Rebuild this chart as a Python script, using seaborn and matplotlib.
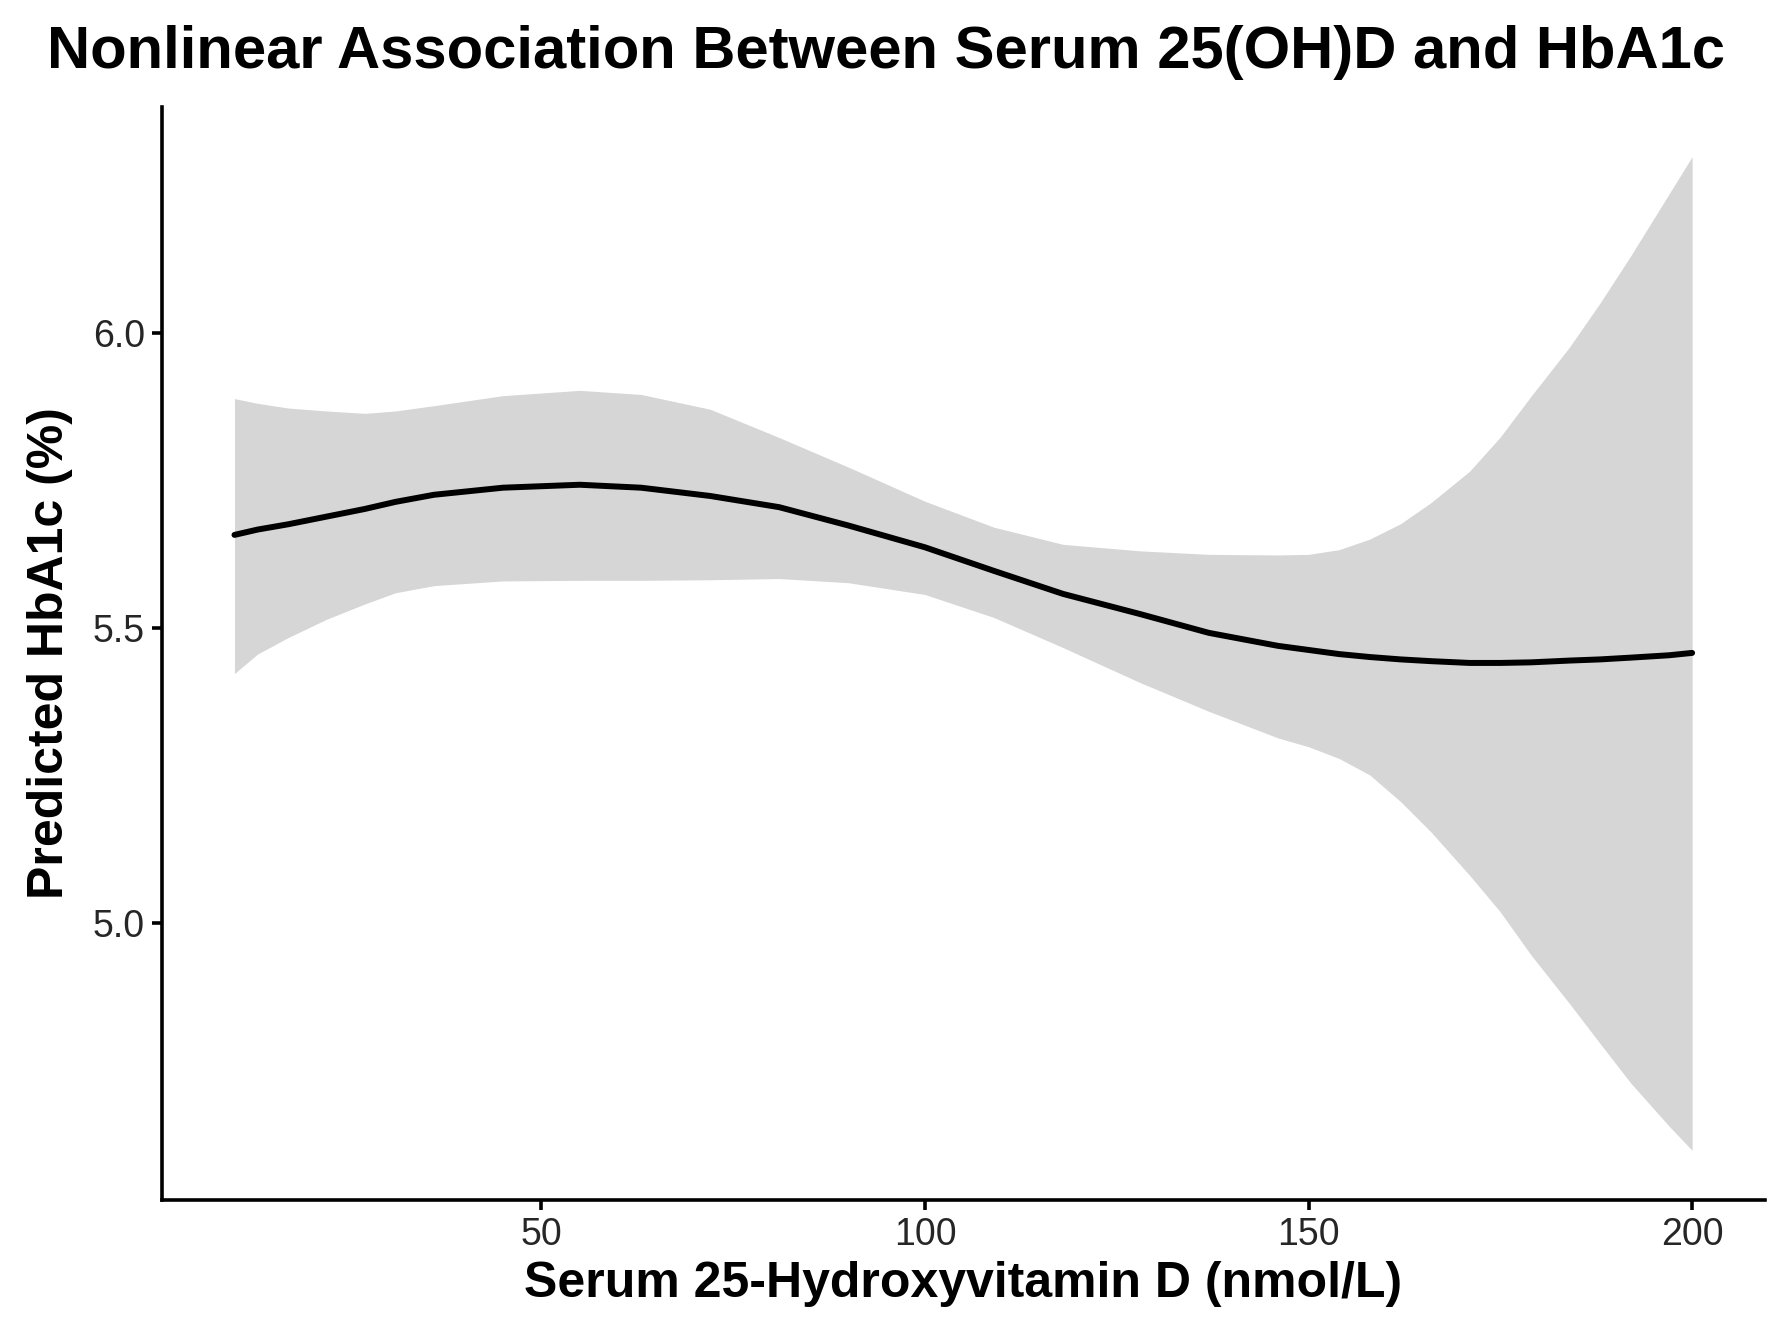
import matplotlib
matplotlib.use("Agg")
import matplotlib.pyplot as plt
import seaborn as sns
import pandas as pd

# Serum 25(OH)D (nmol/L)
vitd = [10, 13, 17, 22, 27, 31, 36, 45, 55, 63, 72, 81, 90, 100, 109, 118, 128,
        137, 146, 150, 154, 158, 162, 166, 171, 175, 179, 184, 188, 192, 197, 200]
# Predicted HbA1c (%)
fit = [5.657, 5.666, 5.675, 5.688, 5.701, 5.713, 5.725, 5.737, 5.742, 5.737,
       5.723, 5.704, 5.673, 5.636, 5.596, 5.557, 5.523, 5.491, 5.469, 5.462,
       5.455, 5.450, 5.446, 5.443, 5.440, 5.440, 5.441, 5.444, 5.446, 5.449,
       5.453, 5.457]
upper = [5.888, 5.880, 5.872, 5.867, 5.863, 5.867, 5.876, 5.893, 5.902, 5.895,
         5.870, 5.822, 5.772, 5.714, 5.670, 5.641, 5.630, 5.624, 5.623, 5.624,
         5.632, 5.650, 5.676, 5.712, 5.765, 5.823, 5.892, 5.975, 6.050, 6.130,
         6.235, 6.298]
lower = [5.422, 5.455, 5.483, 5.514, 5.540, 5.559, 5.571, 5.579, 5.580, 5.580,
         5.581, 5.583, 5.576, 5.556, 5.517, 5.466, 5.407, 5.358, 5.313, 5.298,
         5.278, 5.250, 5.205, 5.153, 5.080, 5.018, 4.945, 4.863, 4.795, 4.728,
         4.655, 4.614]

xticks = [50, 100, 150, 200]
yticks = [5.0, 5.5, 6.0]
ytick_labels = ["5.0", "5.5", "6.0"]

title = "Nonlinear Association Between Serum 25(OH)D and HbA1c"
xlabel = "Serum 25-Hydroxyvitamin D (nmol/L)"
ylabel = "Predicted HbA1c (%)"

df = pd.DataFrame({"vitd": vitd, "fit": fit, "upper": upper, "lower": lower})

sns.set_theme(style="ticks")
plt.rcParams["font.family"] = ["Liberation Sans", "DejaVu Sans"]

W, H = 1772, 1322
fig = plt.figure(figsize=(W / 100, H / 100), dpi=100)
ax = fig.add_axes([161.6 / W, 1 - 1200 / H, (1765 - 161.6) / W, (1200 - 107) / H])

ax.fill_between(df["vitd"], df["lower"], df["upper"], color="#D6D6D6", linewidth=0, zorder=1)
sns.lineplot(data=df, x="vitd", y="fit", color="black", linewidth=4.3, ax=ax, zorder=2)

span_y = max(upper) - min(lower)
span_x = max(vitd) - min(vitd)
ax.set_xlim(min(vitd) - 0.05 * span_x, max(vitd) + 0.05 * span_x)
ax.set_ylim(min(lower) - 0.05 * span_y, max(upper) + 0.05 * span_y)

ax.set_xticks(xticks)
ax.set_xticklabels([str(t) for t in xticks])
ax.set_yticks(yticks)
ax.set_yticklabels(ytick_labels)

for s in ["top", "right"]:
    ax.spines[s].set_visible(False)
for s in ["left", "bottom"]:
    ax.spines[s].set_color("black")
    ax.spines[s].set_linewidth(2.6)

ax.tick_params(axis="both", colors="black", width=2.6, length=7, labelsize=27,
               labelcolor="#262626", pad=5)

ax.set_xlabel(xlabel, fontsize=36, fontweight="bold", color="black", labelpad=6)
ax.set_ylabel(ylabel, fontsize=36, fontweight="bold", color="black", labelpad=14)
ax.grid(False)

fig.text(0.5, 1 - 52 / H, title, ha="center", va="center", fontsize=43,
         fontweight="bold", color="black")

fig.savefig("out.png", dpi=100, facecolor="white")
